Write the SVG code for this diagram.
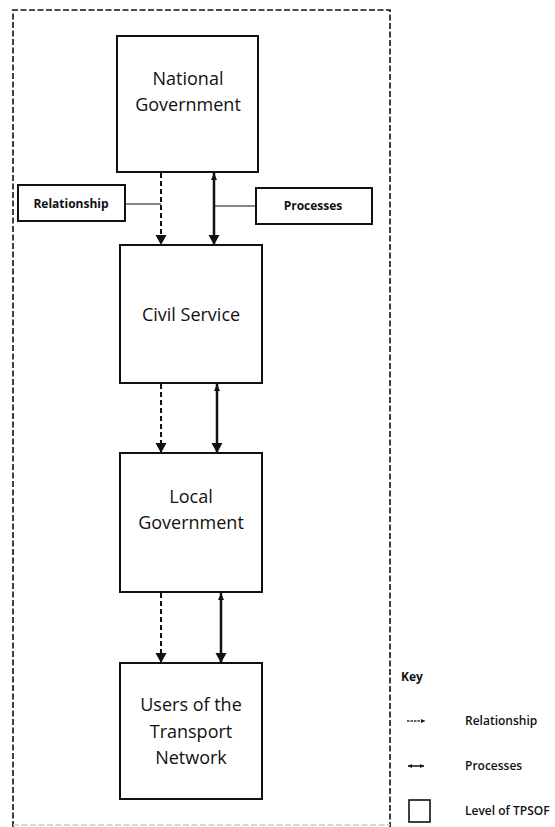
<svg xmlns="http://www.w3.org/2000/svg" width="555" height="827" viewBox="0 0 555 827">
<style>
.box{fill:#fff;stroke:#111;stroke-width:2}
.t{font-family:"Open Sans","Liberation Sans",sans-serif;font-size:18px;font-weight:500;fill:#111;text-anchor:middle}
.lb{font-family:"Open Sans","Liberation Sans",sans-serif;font-size:12px;font-weight:700;fill:#111}
.kt{font-family:"Open Sans","Liberation Sans",sans-serif;font-size:12px;font-weight:600;fill:#111}
.dash{stroke:#111;stroke-width:2;stroke-dasharray:5 3;fill:none}
.sol{stroke:#111;stroke-width:2.5;fill:none}
.thin{stroke:#111;stroke-width:1.2;fill:none}
</style>
<defs>
<marker id="big" markerUnits="userSpaceOnUse" markerWidth="12" markerHeight="12" refX="10" refY="6" orient="auto-start-reverse">
<path d="M0,0.5 L10,6 L0,11.5 Z" fill="#111"/>
</marker>
<marker id="small" markerUnits="userSpaceOnUse" markerWidth="8" markerHeight="7" refX="7" refY="3.5" orient="auto-start-reverse">
<path d="M0,0.5 L7,3.5 L0,6.5 Z" fill="#111"/>
</marker>
<marker id="tiny" markerUnits="userSpaceOnUse" markerWidth="5" markerHeight="4" refX="4" refY="2" orient="auto-start-reverse">
<path d="M0,0 L4,2 L0,4 Z" fill="#111"/>
</marker>
</defs>
<path d="M13,827 V10 H390 V827" fill="none" stroke="#111" stroke-width="1.6" stroke-dasharray="6 2.5"/>
<line x1="13" y1="825" x2="390" y2="825" stroke="#ccc" stroke-width="1.5" stroke-dasharray="6 2.5"/>
<g id="connectors">
<line class="dash" x1="161" y1="173" x2="161" y2="245" marker-end="url(#big)"/>
<line class="sol" x1="214" y1="173" x2="214" y2="245" marker-start="url(#small)" marker-end="url(#big)"/>
<line class="thin" x1="125" y1="204" x2="161" y2="204"/>
<line class="thin" x1="214" y1="206" x2="256" y2="206"/>
<line class="dash" x1="161" y1="384" x2="161" y2="453" marker-end="url(#big)"/>
<line class="sol" x1="217" y1="384" x2="217" y2="453" marker-start="url(#small)" marker-end="url(#big)"/>
<line class="dash" x1="161" y1="593" x2="161" y2="663" marker-end="url(#big)"/>
<line class="sol" x1="221" y1="593" x2="221" y2="663" marker-start="url(#small)" marker-end="url(#big)"/>
</g>
<g id="national-government">
<rect class="box" x="117" y="36" width="141" height="136"/>
<text class="t" x="188" y="85">National</text>
<text class="t" x="188" y="111">Government</text>
</g>
<g id="relationship-label">
<rect class="box" x="18" y="185" width="107" height="36"/>
<text class="lb" x="71" y="208" text-anchor="middle">Relationship</text>
</g>
<g id="processes-label">
<rect class="box" x="256" y="188" width="116" height="36"/>
<text class="lb" x="313" y="210" text-anchor="middle">Processes</text>
</g>
<g id="civil-service">
<rect class="box" x="120" y="245" width="142" height="138"/>
<text class="t" x="191" y="321">Civil Service</text>
</g>
<g id="local-government">
<rect class="box" x="120" y="453" width="142" height="139"/>
<text class="t" x="191" y="503">Local</text>
<text class="t" x="191" y="529">Government</text>
</g>
<g id="users">
<rect class="box" x="120" y="663" width="142" height="136"/>
<text class="t" x="191" y="711">Users of the</text>
<text class="t" x="191" y="738">Transport</text>
<text class="t" x="191" y="764">Network</text>
</g>
<g id="key">
<text class="lb" x="401" y="681">Key</text>
<line x1="407" y1="721" x2="425" y2="721" stroke="#333" stroke-width="1.5" stroke-dasharray="2.5 1" marker-end="url(#tiny)"/>
<text class="kt" x="465" y="725">Relationship</text>
<line x1="408" y1="766" x2="424" y2="766" stroke="#111" stroke-width="1.5" marker-start="url(#tiny)" marker-end="url(#tiny)"/>
<text class="kt" x="465" y="770">Processes</text>
<rect x="409" y="800" width="21" height="22" fill="#fff" stroke="#111" stroke-width="1.6"/>
<text class="kt" x="465" y="815">Level of TPSOF</text>
</g>
</svg>
